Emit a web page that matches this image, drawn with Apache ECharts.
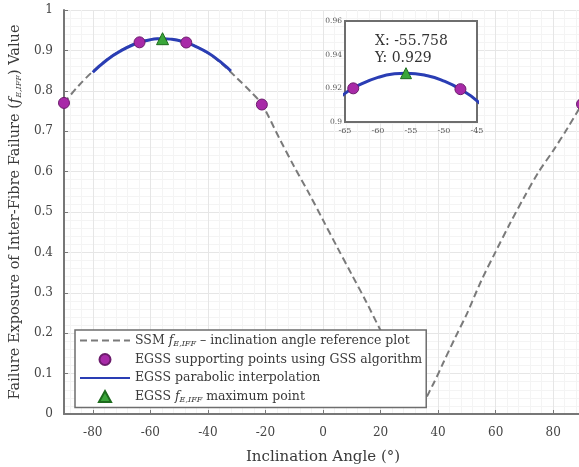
<!DOCTYPE html>
<html><head><meta charset="utf-8">
<script src="https://cdn.jsdelivr.net/npm/echarts@6/dist/echarts.min.js"></script>
<style>html,body{margin:0;padding:0;background:#fff}#c{width:579px;height:467px}</style>
</head><body><div id="c"></div>
<script>
// SSM reference curve (inclination angle, f_E,IFF)
const ssmX = [-90,-85,-80,-75,-70,-65,-60,-55.76,-50,-45,-40,-35,-30,-25,-21.25,-15,-10,-5,0,5,10,15,20,25,30,34,38,42,46,50,55,60,65,70,75,80,85,90];
const ssmY = [0.770,0.812,0.848,0.878,0.901,0.918,0.927,0.929,0.925,0.913,0.893,0.866,0.832,0.797,0.767,0.680,0.612,0.548,0.480,0.412,0.345,0.278,0.207,0.140,0.072,0.025,0.070,0.130,0.190,0.248,0.330,0.402,0.472,0.538,0.600,0.652,0.708,0.767];
// EGSS parabolic interpolation
const parX = [-80,-75,-70,-65,-62.5,-60,-57.5,-55.758,-52.5,-50,-47.5,-45,-40,-35,-32];
const parY = [0.846,0.877,0.900,0.917,0.9226,0.9265,0.9286,0.929,0.9275,0.9243,0.9194,0.9126,0.894,0.868,0.849];
// EGSS supporting points (GSS algorithm)
const gssX = [-90,-63.75,-47.51,-21.25,90];
const gssY = [0.770,0.920,0.9195,0.766,0.767];
// EGSS maximum point
const maxX = [-55.758];
const maxY = [0.929];

const pairs = (xs, ys) => xs.map((x, i) => [x, ys[i]]);
const FONT = '"DejaVu Serif","Liberation Serif",serif';
const AX = '#777';
const TXT = '#3a3a3a';

const names = {
  ssm: 'SSM',
  sup: 'EGSS supporting points using GSS algorithm',
  par: 'EGSS parabolic interpolation',
  max: 'EGSS max'
};
const richF = {
  i: {fontStyle: 'italic', fontFamily: FONT, fontSize: 12.5, color: TXT},
  s: {fontStyle: 'italic', fontFamily: FONT, fontSize: 8, color: TXT, padding: [6, 0, 0, 0]}
};

const chart = echarts.init(document.getElementById('c'), null, {renderer: 'canvas'});
chart.setOption({
  animation: false,
  backgroundColor: '#fff',
  grid: [
    {left: 64, top: 10, right: -3, bottom: 53, outerBoundsMode: 'none', containLabel: false},
    {left: 345, top: 21, width: 132, height: 101, show: true, backgroundColor: '#fff', borderColor: '#6e6e6e', borderWidth: 2, z: 5, outerBoundsMode: 'none', containLabel: false}
  ],
  legend: {
    data: [
      {name: names.ssm, itemStyle: {opacity: 0}},
      {name: names.sup, icon: 'circle'},
      {name: names.par, itemStyle: {opacity: 0}},
      {name: names.max, icon: 'path://M0,10 L5.5,0 L11,10 Z'}
    ],
    orient: 'vertical',
    left: 75, top: 330,
    itemWidth: 50, itemHeight: 11, itemGap: 5.5,
    symbolKeepAspect: true,
    padding: [4, 4, 4, 4],
    backgroundColor: '#fff',
    borderColor: '#6e6e6e', borderWidth: 1.5, borderRadius: 0,
    textStyle: {fontFamily: FONT, fontSize: 12.5, color: TXT, rich: richF},
    formatter: function (n) {
      if (n === names.ssm) return 'SSM {i|f}{s|E,IFF} – inclination angle reference plot';
      if (n === names.max) return 'EGSS {i|f}{s|E,IFF} maximum point';
      return n;
    },
    z: 10
  },
  xAxis: [
    {
      gridIndex: 0, type: 'value', min: -90, max: 90, splitNumber: 9,
      name: 'Inclination Angle (°)', nameLocation: 'middle', nameGap: 36,
      nameTextStyle: {fontFamily: FONT, fontSize: 15, color: TXT},
      axisLine: {show: true, onZero: false, lineStyle: {color: AX, width: 2}},
      axisTick: {show: true, inside: true, length: 4, lineStyle: {color: AX}},
      axisLabel: {showMinLabel: false, showMaxLabel: false, margin: 13, fontFamily: FONT, fontSize: 12, color: '#444'},
      splitLine: {show: true, lineStyle: {color: '#e6e6e6', width: 1}},
      minorTick: {show: false, splitNumber: 5},
      minorSplitLine: {show: true, lineStyle: {color: '#f4f4f4', width: 1}}
    },
    {
      gridIndex: 1, type: 'value', min: -65, max: -45, interval: 5,
      axisLine: {show: false},
      axisTick: {show: false},
      axisLabel: {margin: 5, fontFamily: FONT, fontSize: 8, color: '#555'},
      splitLine: {show: false},
      z: 6
    }
  ],
  yAxis: [
    {
      gridIndex: 0, type: 'value', min: 0, max: 1, interval: 0.1,
      name: 'Failure Exposure of Inter-Fibre Failure ({i|f}{s|E,IFF}) Value',
      nameLocation: 'middle', nameGap: 37,
      nameTextStyle: {fontFamily: FONT, fontSize: 14.5, color: TXT, rich: {
        i: {fontStyle: 'italic', fontFamily: FONT, fontSize: 14.5, color: TXT},
        s: {fontStyle: 'italic', fontFamily: FONT, fontSize: 8, color: TXT, padding: [6, 0, 0, 0]}
      }},
      axisLine: {show: true, onZero: false, lineStyle: {color: AX, width: 2}},
      axisTick: {show: true, inside: true, length: 4, lineStyle: {color: AX}},
      axisLabel: {margin: 11, fontFamily: FONT, fontSize: 12, color: '#444',
        formatter: v => String(+v.toFixed(1))},
      splitLine: {show: true, lineStyle: {color: '#e6e6e6', width: 1}},
      minorTick: {show: false, splitNumber: 5},
      minorSplitLine: {show: true, lineStyle: {color: '#f4f4f4', width: 1}}
    },
    {
      gridIndex: 1, type: 'value', min: 0.9, max: 0.96, interval: 0.02,
      axisLine: {show: false},
      axisTick: {show: false},
      axisLabel: {margin: 3, fontFamily: FONT, fontSize: 7.5, color: '#555',
        formatter: v => String(+v.toFixed(2))},
      splitLine: {show: false},
      z: 6
    }
  ],
  series: [
    {
      name: names.ssm, type: 'line', xAxisIndex: 0, yAxisIndex: 0,
      data: pairs(ssmX, ssmY), smooth: 0.3, symbol: 'none',
      lineStyle: {color: '#7a7a7a', width: 2, type: [7, 4]},
      itemStyle: {color: '#7a7a7a'}, z: 2
    },
    {
      name: names.par, type: 'line', xAxisIndex: 0, yAxisIndex: 0,
      data: pairs(parX, parY), smooth: true, symbol: 'none',
      lineStyle: {color: '#2a3db4', width: 3},
      itemStyle: {color: '#2a3db4'}, z: 3
    },
    {
      name: names.sup, type: 'scatter', xAxisIndex: 0, yAxisIndex: 0,
      data: pairs(gssX, gssY), symbol: 'circle', symbolSize: 11,
      itemStyle: {color: '#a82aa8', borderColor: '#6c1c6c', borderWidth: 1, opacity: 1}, z: 4
    },
    {
      name: names.max, type: 'scatter', xAxisIndex: 0, yAxisIndex: 0,
      data: pairs(maxX, maxY), symbol: 'triangle', symbolSize: 12,
      itemStyle: {color: '#3aa63a', borderColor: '#1d6b1d', borderWidth: 1, opacity: 1}, z: 5
    },
    // inset
    {
      name: names.par, type: 'line', xAxisIndex: 1, yAxisIndex: 1,
      data: pairs(parX, parY), smooth: true, symbol: 'none', clip: true,
      lineStyle: {color: '#2a3db4', width: 3}, z: 7
    },
    {
      name: names.sup, type: 'scatter', xAxisIndex: 1, yAxisIndex: 1,
      data: pairs(gssX, gssY), symbol: 'circle', symbolSize: 11, clip: true,
      itemStyle: {color: '#a82aa8', borderColor: '#6c1c6c', borderWidth: 1, opacity: 1}, z: 8
    },
    {
      name: names.max, type: 'scatter', xAxisIndex: 1, yAxisIndex: 1,
      data: pairs(maxX, maxY), symbol: 'triangle', symbolSize: 11,
      itemStyle: {color: '#3aa63a', borderColor: '#1d6b1d', borderWidth: 1, opacity: 1}, z: 9,
      label: {show: true, position: 'top', distance: 3, align: 'left', offset: [-31, 3],
        fontFamily: FONT, fontSize: 14, color: '#333', lineHeight: 17,
        formatter: p => 'X: ' + p.value[0].toFixed(3) + '\nY: ' + p.value[1].toFixed(3)}
    }
  ]
});
</script></body></html>
